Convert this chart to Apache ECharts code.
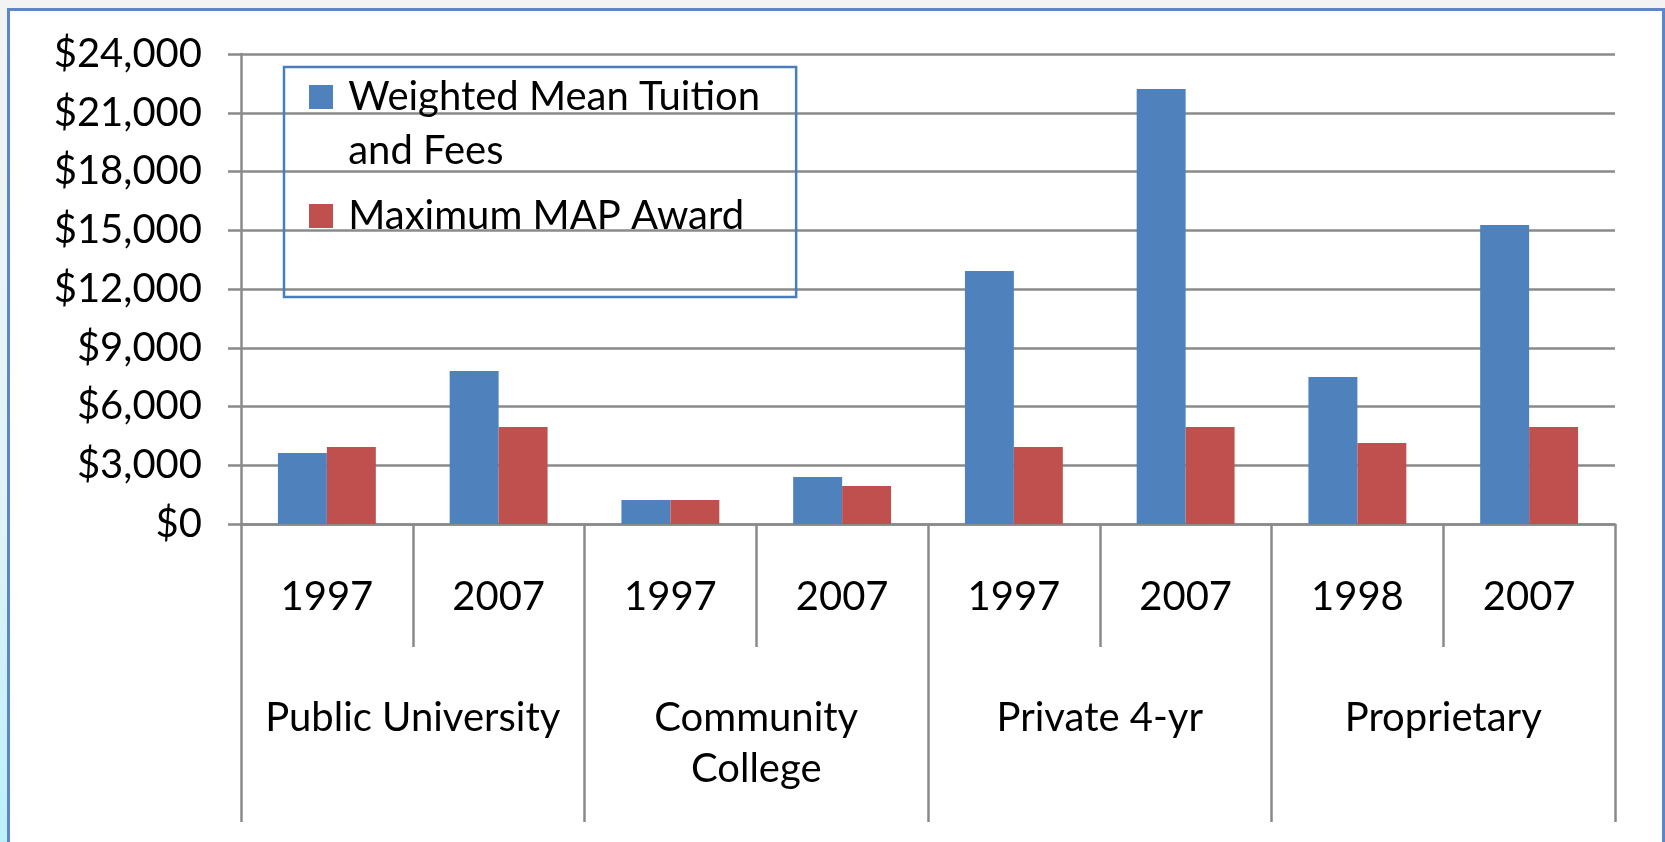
<!DOCTYPE html>
<html>
<head>
<meta charset="utf-8">
<script src="https://cdn.jsdelivr.net/npm/echarts@6/dist/echarts.min.js"></script>
<style>
  html, body { margin: 0; padding: 0; }
  body {
    width: 1665px; height: 842px; overflow: hidden;
    background: linear-gradient(to bottom, #f3f3f3 0%, #e2f3f8 60%, #bdeffa 100%);
  }
  #frame {
    position: absolute; left: 7px; top: 8px; width: 1652px; height: 840px;
    background: #fff;
    border: 3px solid #5b87c6; border-bottom: none;
  }
  #chart { position: absolute; left: 0; top: 0; width: 1665px; height: 842px; }
</style>
</head>
<body>
<div id="frame"></div>
<div id="chart"></div>
<script>
// x axis: year under each bar pair, then the school type below
var years = ['1997', '2007', '1997', '2007', '1997', '2007', '1998', '2007'];
var groups = ['Public University', 'Community\nCollege', 'Private 4-yr', 'Proprietary'];

// values (dollars)
var tuition = [3630, 7810, 1230, 2400, 12920, 22210, 7510, 15270];
var mapAward = [3930, 4950, 1230, 1940, 3930, 4950, 4140, 4950];

var yTicks = [0, 3000, 6000, 9000, 12000, 15000, 18000, 21000, 24000];

var FONT = 'Lato';
var GRID = '#8a8a8a';

var myChart = echarts.init(document.getElementById('chart'), null, { renderer: 'canvas' });

function money(v) {
    return '$' + v.toString().replace(/\B(?=(\d{3})+(?!\d))/g, ',');
}

var option = {
    animation: false,
    backgroundColor: 'transparent',
    textStyle: { fontFamily: FONT },
    grid: { left: 241, right: 50, top: 54, bottom: 318, containLabel: false },
    legend: [
        {
            // empty first line keeps the icon level with "Weighted Mean Tuition"
            data: ['Weighted Mean Tuition and Fees'],
            selectedMode: false,
            left: 309,
            top: 16,
            padding: 0,
            itemWidth: 24,
            itemHeight: 24,
            itemGap: 0,
            icon: 'rect',
            formatter: function () { return ' \n Weighted Mean Tuition\n and Fees'; },
            textStyle: { fontFamily: FONT, fontSize: 40, color: '#000', lineHeight: 54 }
        },
        {
            data: ['Maximum MAP Award'],
            selectedMode: false,
            left: 284,
            top: 67,
            padding: [122, 52, 54, 25],
            borderColor: '#4a7ebb',
            borderWidth: 2.5,
            backgroundColor: 'transparent',
            itemWidth: 24,
            itemHeight: 24,
            icon: 'rect',
            formatter: function (name) { return ' ' + name; },
            textStyle: { fontFamily: FONT, fontSize: 40, color: '#000', lineHeight: 54 }
        }
    ],
    xAxis: [
        {
            type: 'category',
            data: years,
            position: 'bottom',
            axisLine: { show: true, lineStyle: { color: GRID, width: 2.5 } },
            axisTick: { show: true, length: 123, lineStyle: { color: GRID, width: 2.5 } },
            axisLabel: { margin: 48, fontSize: 40, lineHeight: 50, color: '#000', fontFamily: FONT, interval: 0 },
            splitLine: { show: false }
        },
        {
            type: 'category',
            data: groups,
            position: 'bottom',
            offset: 0,
            axisLine: { show: false },
            axisTick: { show: true, length: 298, lineStyle: { color: GRID, width: 2.5 } },
            axisLabel: { margin: 169, fontSize: 40, lineHeight: 51, color: '#000', fontFamily: FONT, interval: 0 },
            splitLine: { show: false }
        }
    ],
    yAxis: {
        type: 'value',
        min: yTicks[0],
        max: yTicks[yTicks.length - 1],
        interval: 3000,
        axisLine: { show: true, lineStyle: { color: GRID, width: 2.5 } },
        axisTick: { show: true, length: 13, lineStyle: { color: GRID, width: 2.5 } },
        axisLabel: { margin: 39, fontSize: 40, color: '#000', fontFamily: FONT, formatter: money },
        splitLine: { show: true, lineStyle: { color: GRID, width: 2.5 } }
    },
    series: [
        {
            name: 'Weighted Mean Tuition and Fees',
            type: 'bar',
            xAxisIndex: 0,
            data: tuition,
            barGap: '0%',
            barCategoryGap: '43%',
            itemStyle: { color: '#4f81bd' }
        },
        {
            name: 'Maximum MAP Award',
            type: 'bar',
            xAxisIndex: 0,
            data: mapAward,
            barGap: '0%',
            barCategoryGap: '43%',
            itemStyle: { color: '#c0504d' }
        }
    ]
};

myChart.setOption(option);
</script>
</body>
</html>
